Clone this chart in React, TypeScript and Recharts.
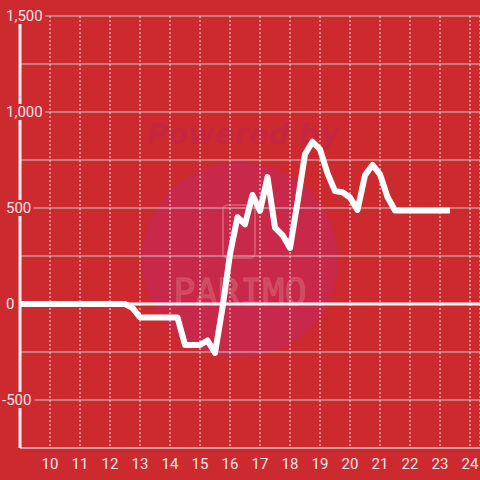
import { CartesianGrid, Line, LineChart, ReferenceLine, XAxis, YAxis } from "recharts";

const hours = [
  9, 12.5, 12.75, 13, 14.25, 14.5, 15, 15.25, 15.5, 15.75, 16, 16.25, 16.5, 16.75, 17, 17.25, 17.5,
  17.75, 18, 18.25, 18.5, 18.75, 19, 19.25, 19.5, 19.75, 20, 20.25, 20.5, 20.75, 21, 21.25, 21.5, 23.33,
];
const values = [
  0, 0, -20, -70, -70, -213, -213, -190, -255, -20, 260, 452, 415, 568, 485, 661, 398,
  359, 292, 530, 780, 845, 805, 680, 588, 582, 555, 490, 670, 724, 675, 557, 487, 487,
];
const hourTicks = [10, 11, 12, 13, 14, 15, 16, 17, 18, 19, 20, 21, 22, 23, 24];
const valueTicks = [-750, -500, -250, 0, 250, 500, 750, 1000, 1250, 1500];

const data = hours.map((h, i) => ({ h, v: values[i] }));

const BG = "#cc2a2f";
const LABEL = "#f4e4e4";

// eslint-disable-next-line @typescript-eslint/no-explicit-any
function YTick(props: any) {
  const { y, payload } = props;
  const v: number = payload.value;
  if (v % 500 !== 0 || v < -500) return null;
  const label = v.toLocaleString("en-US");
  const digits = label.replace(/[^0-9]/g, "").length;
  const commas = (label.match(/,/g) || []).length;
  const minus = v < 0 ? 1 : 0;
  const w = digits * 8.4 + commas * 3.6 + minus * 5.2;
  const x = v < 0 ? 2 : 6;
  return (
    <g>
      <rect x={x - 1} y={y - 8} width={w + 3} height={16} fill={BG} />
      <text
        x={x}
        y={y}
        dy={5}
        textAnchor="start"
        fill={LABEL}
        fontSize={15}
        fontFamily="Roboto"
      >
        {label}
      </text>
    </g>
  );
}

function Watermark() {
  return (
    <svg
      width={480}
      height={480}
      style={{ position: "absolute", top: 0, left: 0 }}
    >
      <rect width={480} height={480} fill={BG} />
      <circle cx={240} cy={260} r={98} fill="#c8284a" />
      <text
        x={243}
        y={144}
        textAnchor="middle"
        fontFamily="DejaVu Sans"
        fontStyle="italic"
        fontWeight="bold"
        fontSize={29}
        fill="#c62540"
      >
        Powered by
      </text>
      <rect x={223} y={205} width={32} height={53} rx={5} fill="none" stroke="#d4566a" strokeWidth={2} />
      <text
        x={240}
        y={305}
        textAnchor="middle"
        fontFamily="DejaVu Sans Mono"
        fontSize={37}
        fill="#cf4a60"
        stroke="#d4566a"
        strokeWidth={0.8}
      >
        PARIMO
      </text>
    </svg>
  );
}

export default function App() {
  return (
    <div style={{ position: "absolute", top: 0, left: 0, width: 480, height: 480 }}>
      <Watermark />
      <div style={{ position: "absolute", top: 0, left: 0 }}>
        <LineChart
          width={480}
          height={480}
          data={data}
          margin={{ top: 16, right: 0, left: 0, bottom: 0 }}
        >
          <CartesianGrid
            stroke="#cfc4c4"
            strokeWidth={1}
            vertical={false}
          />
          <CartesianGrid
            stroke="#f0e4e4"
            strokeDasharray="2 2"
            horizontal={false}
          />
          <XAxis
            dataKey="h"
            type="number"
            domain={[9, 24.333]}
            ticks={hourTicks}
            height={32}
            tick={{ fill: LABEL, fontSize: 15, fontFamily: "Roboto" }}
            tickLine={false}
            axisLine={{ stroke: "#cfc4c4", strokeWidth: 1 }}
            tickMargin={4}
            allowDataOverflow
          />
          <YAxis
            type="number"
            domain={[-750, 1500]}
            ticks={valueTicks}
            width={20}
            axisLine={{ stroke: "#f7f0f0", strokeWidth: 3 }}
            tickLine={false}
            tick={<YTick />}
            interval={0}
          />
          <ReferenceLine y={0} stroke="#faf5f5" strokeWidth={3} />
          <Line
            type="linear"
            dataKey="v"
            stroke="#ffffff"
            strokeWidth={6}
            strokeLinejoin="round"
            dot={false}
            activeDot={false}
            isAnimationActive={false}
          />
        </LineChart>
      </div>
    </div>
  );
}
